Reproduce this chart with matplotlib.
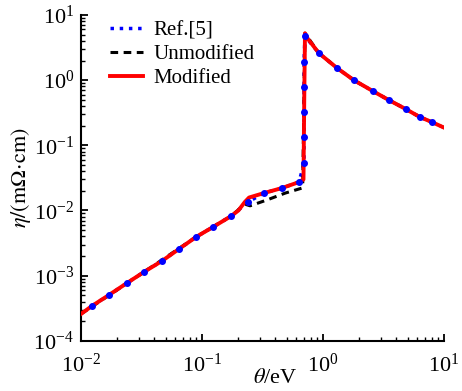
import matplotlib
matplotlib.use("Agg")
import matplotlib.pyplot as plt
from matplotlib.ticker import LogLocator, NullFormatter

plt.rcParams['font.family'] = ['Liberation Serif', 'DejaVu Serif']
plt.rcParams['mathtext.fontset'] = 'stix'

# Ref.[5] (sampled points along the curve)
theta_ref = [0.0123, 0.0170, 0.0240, 0.0332, 0.0467, 0.0645, 0.0891, 0.123, 0.174,
             0.240, 0.325, 0.458, 0.634, 0.697, 0.697, 0.697, 0.697, 0.697, 0.710,
             0.927, 1.31, 1.80, 2.59, 3.51, 4.85, 6.34, 7.96]
eta_ref = [3.42e-4, 5.04e-4, 7.70e-4, 1.14e-3, 1.68e-3, 2.56e-3, 3.91e-3, 5.56e-3, 8.20e-3,
           0.0135, 0.0185, 0.0221, 0.0273, 0.0533, 0.134, 0.323, 0.781, 1.89, 4.73,
           2.59, 1.53, 1.00, 0.678, 0.494, 0.359, 0.271, 0.227]

# Unmodified
theta_unmod = [0.01, 0.0332, 0.0891, 0.174, 0.226, 0.250, 0.344, 0.488, 0.672, 0.68, 0.70,
               0.71, 0.927, 1.31, 1.80, 2.59, 3.51, 4.85, 6.34, 7.96, 10.0]
eta_unmod = [2.58e-4, 1.14e-3, 3.91e-3, 8.20e-3, 0.0125, 0.0118, 0.0145, 0.0185, 0.0221, 0.024, 1.0,
             5.25, 2.59, 1.53, 1.00, 0.678, 0.494, 0.359, 0.271, 0.227, 0.187]

# Modified
theta_mod = [0.01, 0.0123, 0.0170, 0.0240, 0.0332, 0.0467, 0.0645, 0.0891, 0.123, 0.174,
             0.200, 0.226, 0.245, 0.325, 0.458, 0.634, 0.69, 0.70, 0.71, 0.75,
             0.927, 1.31, 1.80, 2.59, 3.51, 4.85, 6.34, 7.96, 10.0]
eta_mod = [2.58e-4, 3.42e-4, 5.04e-4, 7.70e-4, 1.14e-3, 1.68e-3, 2.56e-3, 3.91e-3, 5.56e-3, 8.20e-3,
           0.0100, 0.0135, 0.0158, 0.0185, 0.0221, 0.0273, 0.030, 0.5, 5.25, 4.3,
           2.59, 1.53, 1.00, 0.678, 0.494, 0.359, 0.271, 0.227, 0.187]

fig = plt.figure(figsize=(4.62, 3.91), dpi=100)
ax = fig.add_axes([0.1753, 0.1284, 0.7857, 0.8332])

ax.plot(theta_ref, eta_ref, color='blue', ls=':', lw=2.5, label='Ref.[5]', zorder=1)
ax.plot(theta_unmod, eta_unmod, color='black', lw=2.2, dashes=(2.5, 1.8), label='Unmodified', zorder=2)
ax.plot(theta_mod, eta_mod, color='red', lw=2.8, label='Modified', zorder=3)
ax.plot(theta_ref, eta_ref, color='blue', ls='none', marker='o', ms=4, zorder=4)

ax.set_xscale('log')
ax.set_yscale('log')
ax.set_xlim(1e-2, 1e1)
ax.set_ylim(1e-4, 1e1)

ax.spines['top'].set_visible(False)
ax.spines['right'].set_visible(False)
for s in ('left', 'bottom'):
    ax.spines[s].set_linewidth(1.5)

ax.xaxis.set_major_locator(LogLocator(base=10, numticks=10))
ax.yaxis.set_major_locator(LogLocator(base=10, numticks=10))
ax.xaxis.set_minor_locator(LogLocator(base=10, subs=range(2, 10), numticks=20))
ax.yaxis.set_minor_locator(LogLocator(base=10, subs=range(2, 10), numticks=20))
ax.xaxis.set_minor_formatter(NullFormatter())
ax.yaxis.set_minor_formatter(NullFormatter())
ax.tick_params(which='major', direction='in', length=5, width=1.3, labelsize=16)
ax.tick_params(axis='x', which='major', pad=9)
ax.tick_params(axis='y', which='major', pad=5)
ax.tick_params(which='minor', direction='in', length=3, width=1.0)

ax.set_xlabel(r'$\theta$/eV', fontsize=16)
ax.xaxis.set_label_coords(0.535, -0.088, transform=ax.transAxes)
ax.xaxis.label.set_va('top')
ax.set_ylabel(r'$\eta/(\mathrm{m}\Omega\!\cdot\!\mathrm{cm})$', fontsize=16, labelpad=0)

ax.legend(loc='upper left', frameon=False, fontsize=15, handlelength=1.6,
          handletextpad=0.5, labelspacing=0.2, bbox_to_anchor=(0.028, 1.04))

fig.savefig('out.png', dpi=100)
